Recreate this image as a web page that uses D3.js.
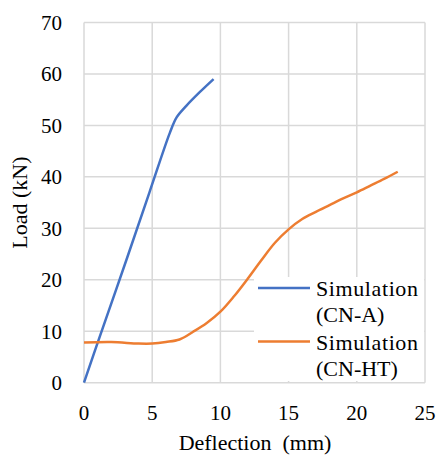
<!DOCTYPE html>
<html>
<head>
<meta charset="utf-8">
<script src="https://cdn.jsdelivr.net/npm/d3@7"></script>
<style>
  body { margin: 0; background: #fff; }
</style>
</head>
<body>
<div id="wrapper"></div>
<script>
// values
const seriesNames = ["Simulation (CN-A)", "Simulation (CN-HT)"]
const seriesColors = ["#4472C4", "#ED7D31"]

const cnA_x = [0, 1.2, 3.1, 4.8, 6.3, 6.8, 7.5, 8.5, 9.5]
const cnA_y = [0, 9.3, 23.8, 37, 48.6, 51.6, 53.8, 56.5, 59]

const cnHT_x = [0, 2, 4, 5, 6, 7, 8, 9, 10, 11, 12, 13, 14, 15, 16, 17, 18, 19, 20, 21, 22, 23]
const cnHT_y = [7.8, 7.9, 7.6, 7.6, 7.9, 8.4, 9.9, 11.6, 13.8, 16.8, 20.2, 23.8, 27.2, 29.8, 31.8, 33.2, 34.5, 35.8, 37.0, 38.3, 39.6, 41]

const xTicks = [0, 5, 10, 15, 20, 25]
const yTicks = [0, 10, 20, 30, 40, 50, 60, 70]

const FONT = "'Liberation Serif', 'Times New Roman', 'DejaVu Serif', serif"

const dimensions = {
    width: 438,
    height: 455,
    margin: { top: 22.5, right: 13, bottom: 72.3, left: 84 }
}
dimensions.boundedWidth = dimensions.width - dimensions.margin.left - dimensions.margin.right
dimensions.boundedHeight = dimensions.height - dimensions.margin.top - dimensions.margin.bottom

const svg = d3.select("#wrapper").append("svg")
    .attr("width", dimensions.width)
    .attr("height", dimensions.height)
    .attr("font-family", FONT)

const xScale = d3.scaleLinear().domain([0, 25])
    .range([dimensions.margin.left, dimensions.margin.left + dimensions.boundedWidth])
const yScale = d3.scaleLinear().domain([0, 70])
    .range([dimensions.margin.top + dimensions.boundedHeight, dimensions.margin.top])

// grid
const grid = svg.append("g").attr("stroke", "#d9d9d9").attr("stroke-width", 1.5)
grid.selectAll(".gx").data(xTicks).join("line")
    .attr("x1", d => xScale(d)).attr("x2", d => xScale(d))
    .attr("y1", yScale(0)).attr("y2", yScale(70))
grid.selectAll(".gy").data(yTicks).join("line")
    .attr("x1", xScale(0)).attr("x2", xScale(25))
    .attr("y1", d => yScale(d)).attr("y2", d => yScale(d))

// tick labels
svg.append("g").selectAll("text").data(yTicks).join("text")
    .attr("x", 62)
    .attr("y", d => yScale(d))
    .attr("dy", "0.35em")
    .attr("text-anchor", "end")
    .attr("font-family", FONT)
    .style("font-size", "21px")
    .text(d => d)

svg.append("g").selectAll("text").data(xTicks).join("text")
    .attr("x", d => xScale(d))
    .attr("y", 420)
    .attr("text-anchor", "middle")
    .attr("font-family", FONT)
    .style("font-size", "21px")
    .text(d => d)

// axis titles
svg.append("text")
    .attr("x", 255).attr("y", 450)
    .attr("text-anchor", "middle")
    .attr("font-family", FONT)
    .style("font-size", "22px")
    .style("white-space", "pre")
    .text("Deflection  (mm)")

svg.append("text")
    .attr("transform", `translate(27,${(yScale(0) + yScale(70)) / 2}) rotate(-90)`)
    .attr("text-anchor", "middle")
    .attr("font-family", FONT)
    .style("font-size", "22px")
    .text("Load (kN)")

// series
const line = d3.line()
    .x(d => xScale(d[0]))
    .y(d => yScale(d[1]))
    .curve(d3.curveCatmullRom.alpha(0.5))

const series = [
    d3.zip(cnA_x, cnA_y),
    d3.zip(cnHT_x, cnHT_y)
]

svg.append("g").selectAll("path").data(series).join("path")
    .attr("d", line)
    .attr("fill", "none")
    .attr("stroke", (d, i) => seriesColors[i])
    .attr("stroke-width", 2.5)
    .attr("stroke-linejoin", "round")

// legend
const legend = svg.append("g")
legend.append("rect")
    .attr("x", 254).attr("y", 277)
    .attr("width", 170).attr("height", 104)
    .attr("fill", "#fff")

const entries = legend.selectAll("g").data(seriesNames).join("g")
    .attr("transform", (d, i) => `translate(0,${i * 53.5})`)
entries.append("line")
    .attr("x1", 258).attr("x2", 310)
    .attr("y1", 288).attr("y2", 288)
    .attr("stroke", (d, i) => seriesColors[i])
    .attr("stroke-width", 2.5)
entries.append("text")
    .attr("x", 316).attr("y", 296)
    .attr("font-family", FONT)
    .style("font-size", "22px")
    .style("letter-spacing", "0.6px")
    .text(d => d.split(" ")[0])
entries.append("text")
    .attr("x", 316).attr("y", 322)
    .attr("font-family", FONT)
    .style("font-size", "22px")
    .text(d => d.split(" ")[1])
</script>
</body>
</html>
